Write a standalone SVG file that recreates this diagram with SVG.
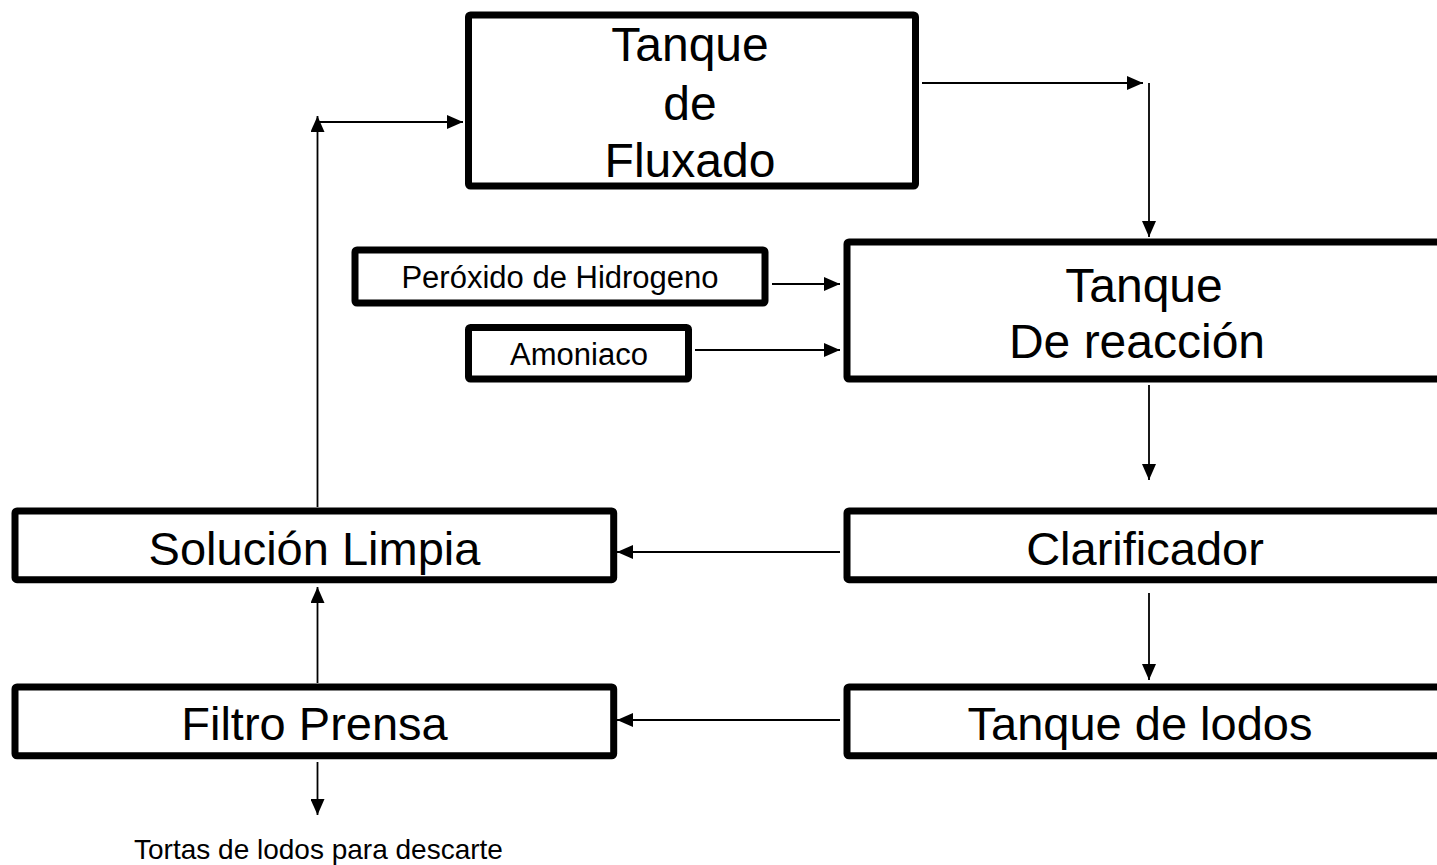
<svg xmlns="http://www.w3.org/2000/svg" width="1437" height="865" viewBox="0 0 1437 865">
<style>
.box{fill:#ffffff;stroke:#000000;stroke-width:7;stroke-linejoin:round}
.big{font-family:"Liberation Sans",Arial,sans-serif;font-size:47px;fill:#000;text-anchor:middle}
.mid{font-family:"Liberation Sans",Arial,sans-serif;font-size:48px;fill:#000;text-anchor:middle}
.small{font-family:"Liberation Sans",Arial,sans-serif;font-size:31px;fill:#000;text-anchor:middle}
.cap{font-family:"Liberation Sans",Arial,sans-serif;font-size:28px;fill:#000;text-anchor:middle}
.conn{fill:none;stroke:#000;stroke-width:1.8}
</style>
<defs>
<marker id="ah" markerUnits="userSpaceOnUse" markerWidth="16" markerHeight="14" refX="16" refY="7" orient="auto">
<path d="M0,0 L16,7 L0,14 Z" fill="#000"/>
</marker>
</defs>
<rect width="1437" height="865" fill="#ffffff"/>
<g id="connectors">
<path class="conn" d="M922,83 H1143" marker-end="url(#ah)"/>
<path class="conn" d="M1149,83 V237" marker-end="url(#ah)"/>
<path class="conn" d="M772,284 H840" marker-end="url(#ah)"/>
<path class="conn" d="M695,350 H840" marker-end="url(#ah)"/>
<path class="conn" d="M1149,385 V480" marker-end="url(#ah)"/>
<path class="conn" d="M1149,593 V680" marker-end="url(#ah)"/>
<path class="conn" d="M840,552 H617" marker-end="url(#ah)"/>
<path class="conn" d="M840,720 H617" marker-end="url(#ah)"/>
<path class="conn" d="M317.5,683 V587" marker-end="url(#ah)"/>
<path class="conn" d="M317.5,507 V116" marker-end="url(#ah)"/>
<path class="conn" d="M317.5,122 H463" marker-end="url(#ah)"/>
<path class="conn" d="M317.5,762 V815" marker-end="url(#ah)"/>
</g>
<g id="fluxado">
<rect class="box" x="468.5" y="15" width="447" height="171" rx="2"/>
<text class="mid" x="690" y="61">Tanque</text>
<text class="mid" x="690" y="120">de</text>
<text class="mid" x="690" y="177">Fluxado</text>
</g>
<g id="reaccion">
<rect class="box" x="847" y="242" width="600" height="137" rx="2"/>
<text class="mid" x="1144" y="302">Tanque</text>
<text class="mid" x="1137" y="358">De reacción</text>
</g>
<g id="peroxido">
<rect class="box" x="355" y="250" width="410" height="53" rx="2"/>
<text class="small" x="560" y="288">Peróxido de Hidrogeno</text>
</g>
<g id="amoniaco">
<rect class="box" x="468.5" y="327.5" width="220" height="51.5" rx="2"/>
<text class="small" x="579" y="365">Amoniaco</text>
</g>
<g id="clarificador">
<rect class="box" x="847" y="511" width="600" height="68.7" rx="2"/>
<text class="big" x="1145" y="565">Clarificador</text>
</g>
<g id="lodos">
<rect class="box" x="847" y="687" width="600" height="68.8" rx="2"/>
<text class="big" x="1140" y="740">Tanque de lodos</text>
</g>
<g id="solucion">
<rect class="box" x="15" y="511" width="598.7" height="68.7" rx="2"/>
<text class="big" x="314.5" y="565">Solución Limpia</text>
</g>
<g id="filtro">
<rect class="box" x="15" y="687" width="598.7" height="68.8" rx="2"/>
<text class="big" x="314.5" y="740">Filtro Prensa</text>
</g>
<g id="tortas">
<text class="cap" x="318.5" y="859">Tortas de lodos para descarte</text>
</g>
</svg>
